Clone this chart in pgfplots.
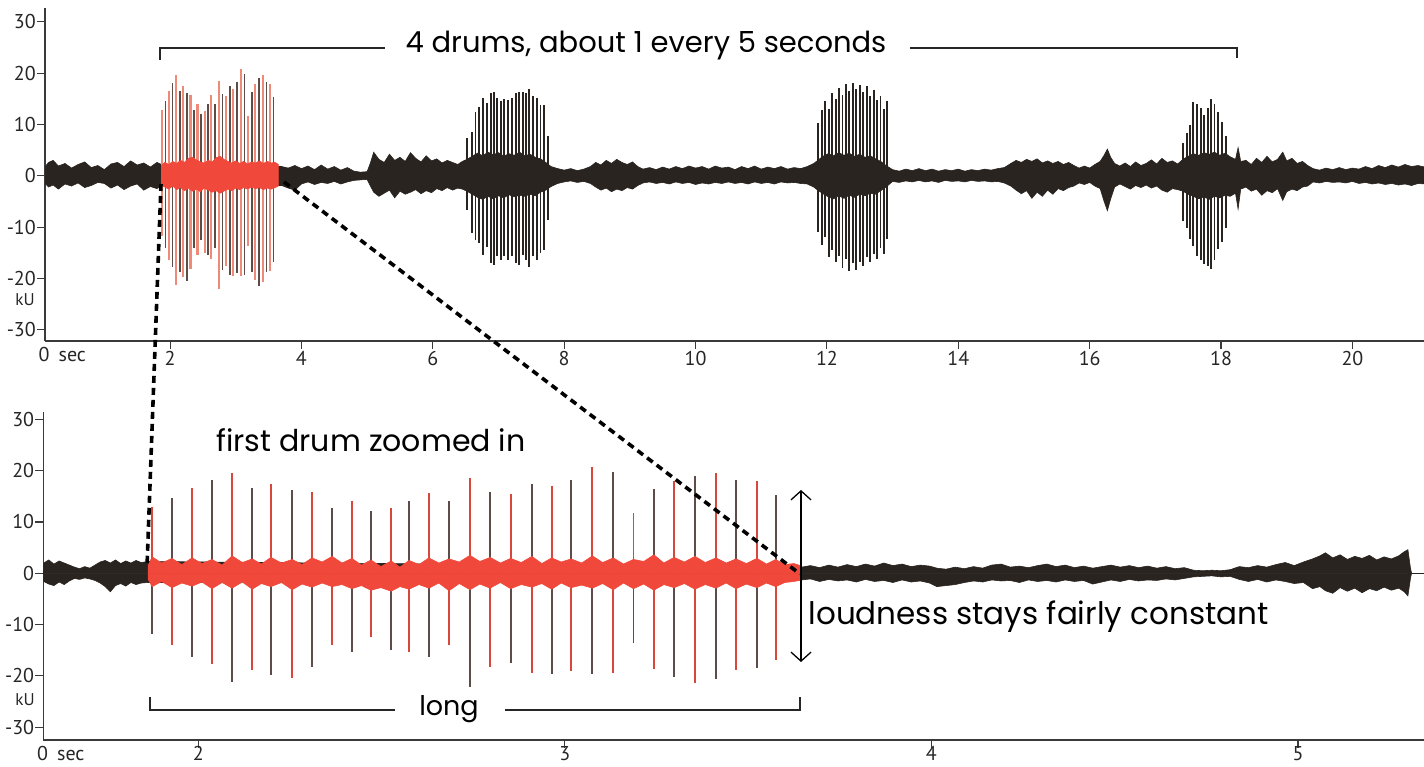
\documentclass[border=0pt]{standalone}
\usepackage{pgfplots}
\pgfplotsset{compat=1.18}
\usepackage{pgfplotstable}
\usetikzlibrary{arrows.meta}
\usepackage{fontspec}
\setmainfont{PT Sans}
\newfontfamily\hand{Poppins}

\definecolor{wave}{HTML}{2A2420}
\definecolor{redband}{HTML}{F0483A}
\definecolor{salmon}{HTML}{EE8A78}
\definecolor{spikedark}{HTML}{5E4C48}
\definecolor{spikered}{HTML}{D9473C}
\definecolor{axisgray}{HTML}{3A3A3A}

% noise envelope of the whole recording (top), kU
\pgfplotstableread{
t hi lo
0.10 1.8 -1.5
0.15 2.6 -2.2
0.22 3.0 -1.8
0.30 1.9 -2.6
0.40 2.4 -1.6
0.50 1.5 -2.0
0.60 2.2 -1.4
0.70 2.7 -2.3
0.80 1.6 -1.9
0.90 2.0 -1.3
1.00 1.2 -1.5
1.10 2.3 -2.4
1.20 2.6 -1.8
1.30 1.8 -2.7
1.40 2.9 -2.0
1.50 2.1 -1.6
1.60 2.5 -2.8
1.70 1.7 -2.1
1.80 2.6 -2.5
1.87 2.2 -2.0
3.70 1.8 -1.9
3.80 1.5 -2.4
3.90 2.0 -2.8
4.00 1.4 -1.6
4.10 1.9 -1.2
4.20 1.2 -1.7
4.30 2.1 -1.3
4.40 1.3 -1.5
4.50 1.8 -1.1
4.60 1.1 -1.6
4.70 1.6 -1.2
4.80 0.9 -0.9
4.90 0.7 -0.8
5.00 0.8 -0.7
5.05 2.5 -2.0
5.10 4.6 -3.2
5.18 3.2 -4.0
5.26 2.6 -3.4
5.34 4.2 -2.8
5.42 3.0 -4.3
5.50 3.6 -3.0
5.58 2.8 -3.6
5.66 4.5 -3.2
5.74 3.4 -2.7
5.82 2.7 -3.5
5.90 3.9 -2.9
5.98 2.9 -3.3
6.06 3.3 -2.5
6.14 2.5 -2.9
6.22 3.0 -2.3
6.30 2.6 -2.8
6.38 2.2 -2.4
6.45 2.8 -2.6
6.52 3.2 -3.0
6.60 3.8 -3.6
6.68 4.4 -4.2
6.76 3.9 -4.6
6.84 4.6 -4.0
6.92 4.1 -4.5
7.00 4.5 -3.9
7.08 3.8 -4.3
7.16 4.3 -3.7
7.24 4.0 -4.1
7.32 4.6 -3.8
7.40 3.9 -4.0
7.48 4.2 -3.6
7.56 3.6 -3.9
7.64 3.3 -3.2
7.72 2.6 -2.8
7.80 1.8 -2.1
7.90 1.4 -1.5
8.00 1.1 -1.2
8.10 1.4 -1.0
8.20 1.0 -1.3
8.30 1.3 -1.1
8.40 1.8 -1.5
8.48 2.6 -2.2
8.56 2.1 -2.8
8.64 3.0 -2.4
8.72 2.4 -3.1
8.80 3.2 -2.6
8.88 2.6 -2.9
8.96 2.2 -2.3
9.04 2.7 -2.6
9.12 1.8 -1.9
9.20 1.3 -1.4
9.30 1.6 -1.2
9.40 1.2 -1.5
9.50 1.7 -1.3
9.60 1.3 -1.6
9.70 1.8 -1.2
9.80 1.4 -1.5
9.90 1.9 -1.3
10.00 1.5 -1.7
10.10 1.8 -1.4
10.20 1.3 -1.6
10.30 1.9 -1.3
10.40 1.5 -1.5
10.50 1.7 -1.2
10.60 1.2 -1.5
10.70 1.8 -1.3
10.80 1.4 -1.6
10.90 1.9 -1.2
11.00 1.3 -1.5
11.10 1.7 -1.3
11.20 1.4 -1.6
11.30 1.8 -1.2
11.40 1.3 -1.4
11.50 1.6 -1.3
11.60 1.4 -1.5
11.70 1.8 -1.6
11.80 2.4 -2.2
11.86 3.0 -2.8
11.94 3.8 -3.5
12.02 4.3 -4.1
12.10 3.9 -4.5
12.18 4.5 -3.9
12.26 4.0 -4.4
12.34 4.4 -3.8
12.42 3.8 -4.2
12.50 4.2 -3.6
12.58 3.6 -3.9
12.66 3.9 -3.4
12.74 3.3 -3.6
12.82 2.8 -2.9
12.90 2.0 -2.2
13.00 1.2 -1.1
13.10 0.9 -1.3
13.20 1.3 -1.0
13.30 1.0 -1.2
13.40 1.4 -0.9
13.50 1.0 -1.2
13.60 1.3 -1.0
13.70 0.9 -1.3
13.80 1.2 -0.9
13.90 1.0 -1.1
14.00 1.3 -1.0
14.10 0.9 -1.2
14.20 1.2 -0.9
14.30 1.0 -1.1
14.40 1.3 -1.0
14.50 1.1 -1.2
14.60 1.4 -1.1
14.70 1.6 -1.4
14.80 2.4 -2.0
14.88 3.0 -2.8
14.96 2.6 -3.5
15.04 3.2 -2.9
15.12 2.8 -4.4
15.20 3.3 -3.2
15.28 2.5 -4.0
15.36 2.9 -2.8
15.44 2.4 -3.6
15.52 2.8 -2.5
15.60 2.2 -2.9
15.68 2.6 -2.3
15.76 2.0 -2.0
15.84 1.5 -1.4
15.92 1.9 -1.7
16.00 1.5 -1.3
16.08 2.2 -2.0
16.16 2.8 -2.5
16.22 4.0 -5.0
16.27 5.2 -6.8
16.32 3.6 -4.5
16.38 2.4 -2.2
16.46 1.9 -1.6
16.54 2.5 -2.1
16.62 1.8 -2.6
16.70 2.7 -1.9
16.78 2.0 -2.3
16.86 2.4 -1.8
16.94 3.1 -2.4
17.02 2.3 -2.0
17.10 3.4 -2.8
17.18 2.6 -3.2
17.26 2.9 -2.5
17.34 2.3 -2.7
17.42 3.2 -3.0
17.50 3.8 -3.6
17.58 4.3 -4.0
17.66 4.0 -4.5
17.74 4.5 -4.1
17.82 4.2 -4.6
17.90 4.6 -4.0
17.98 4.0 -4.3
18.06 4.4 -3.8
18.14 3.7 -4.0
18.22 3.2 -3.4
18.26 5.5 -6.5
18.30 2.8 -2.6
18.38 3.0 -2.2
18.46 2.2 -3.0
18.54 3.4 -2.6
18.62 2.6 -3.8
18.70 3.8 -2.9
18.78 2.7 -3.3
18.86 3.2 -2.5
18.94 4.6 -4.8
19.00 2.9 -3.1
19.08 3.4 -2.6
19.16 2.4 -2.9
19.24 2.8 -2.2
19.32 2.0 -2.0
19.40 1.4 -1.2
19.50 1.1 -1.4
19.60 1.5 -1.1
19.70 1.2 -1.3
19.80 1.6 -1.2
19.90 1.2 -1.4
20.00 1.5 -1.1
20.10 1.3 -1.5
20.20 1.8 -1.3
20.30 1.4 -1.6
20.40 2.0 -1.4
20.50 1.6 -1.7
20.60 2.1 -1.5
20.70 1.7 -1.8
20.80 2.2 -1.6
20.90 1.8 -1.9
21.00 2.0 -1.5
21.10 1.7 -1.6
}\topnoise

% red noise band of the first drum, seen in the top chart
\pgfplotstableread{
t hi lo
1.87 2.0 -1.8
1.92 2.6 -2.2
1.98 2.2 -2.6
2.04 2.8 -2.0
2.10 2.4 -2.7
2.16 3.0 -2.3
2.22 2.6 -2.9
2.28 3.4 -2.4
2.34 3.6 -3.0
2.40 3.1 -2.6
2.46 2.7 -3.1
2.52 2.5 -2.4
2.58 3.0 -2.8
2.64 2.7 -3.2
2.70 3.5 -2.9
2.76 3.8 -3.4
2.82 3.2 -3.0
2.88 2.8 -2.6
2.94 2.5 -2.9
3.00 2.9 -2.4
3.06 2.4 -2.7
3.12 2.8 -2.3
3.18 2.3 -2.6
3.24 2.7 -2.2
3.30 2.5 -2.5
3.36 2.9 -2.3
3.42 2.4 -2.7
3.48 2.8 -2.4
3.54 2.5 -2.6
3.60 2.6 -2.3
3.65 2.2 -2.0
}\topred

% first drum hits, alternate strokes: time (s), positive tip, negative tip (kU)
\pgfplotstableread{
t up dn
1.874 12.9 -11.8
1.983 16.6 -16.4
2.092 19.6 -21.2
2.198 17.4 -19.8
2.310 15.8 -18.2
2.419 14.0 -15.4
2.526 12.7 -15.0
2.629 15.7 -16.3
2.741 18.5 -22.1
2.852 15.5 -17.5
2.964 17.0 -19.6
3.075 20.8 -19.6
3.187 11.7 -13.6
3.298 17.9 -20.3
3.412 19.6 -20.7
3.524 17.9 -18.5
}\drumonea

\pgfplotstableread{
t up dn
1.928 14.6 -14.0
2.037 18.1 -17.7
2.147 16.6 -18.8
2.256 16.2 -20.5
2.365 12.8 -14.0
2.471 12.1 -12.5
2.575 14.0 -15.4
2.684 14.0 -14.0
2.796 15.9 -18.3
2.910 17.4 -19.4
3.017 18.2 -19.0
3.132 19.8 -19.4
3.243 16.4 -18.7
3.355 19.0 -21.4
3.467 18.2 -18.8
3.575 15.3 -16.9
}\drumoneb

\pgfplotstableread{
t up dn
6.52 7.3 -6.6
6.59 8.6 -11.2
6.65 12.5 -12.5
6.70 13.5 -13.1
6.76 15.1 -15.4
6.82 14.2 -13.8
6.88 16.1 -17.0
6.93 16.4 -17.3
6.98 15.1 -15.7
7.04 14.5 -16.4
7.09 14.9 -15.7
7.15 14.8 -16.4
7.20 15.1 -15.7
7.26 16.1 -17.0
7.31 16.4 -17.3
7.37 16.4 -15.4
7.42 16.1 -16.4
7.47 16.9 -17.7
7.53 15.5 -15.7
7.58 15.1 -16.4
7.64 13.8 -15.1
7.69 13.8 -14.4
7.76 7.7 -8.6
}\drumtwo

\pgfplotstableread{
t up dn
11.870 10.2 -11.0
11.922 12.8 -13.5
11.975 14.5 -12.0
12.027 13.0 -15.8
12.080 16.2 -14.5
12.132 15.0 -16.8
12.185 17.2 -15.6
12.237 15.8 -17.9
12.290 17.8 -16.2
12.342 16.5 -18.5
12.395 18.0 -17.0
12.447 17.0 -18.3
12.500 17.6 -16.8
12.552 16.3 -17.6
12.605 17.4 -15.9
12.657 15.6 -16.9
12.710 16.8 -15.2
12.762 14.8 -16.2
12.815 15.6 -14.0
12.867 13.0 -15.3
12.920 14.6 -12.4
}\drumthree

\pgfplotstableread{
t up dn
17.42 6.3 -8.8
17.48 8.4 -10.2
17.53 9.8 -12.3
17.58 14.3 -13.6
17.64 13.9 -15.7
17.69 13.2 -16.4
17.74 11.8 -17.1
17.80 13.2 -17.5
17.85 14.9 -18.2
17.90 13.9 -16.4
17.96 12.5 -14.3
18.01 10.5 -13.0
18.07 7.7 -10.2
}\drumfour

% zoomed chart: black noise before and after the drum
\pgfplotstableread{
t hi lo
1.578 2.0 -1.6
1.592 2.6 -2.1
1.606 1.8 -2.4
1.620 2.4 -1.7
1.634 2.0 -2.2
1.648 1.6 -1.5
1.662 1.2 -1.0
1.676 0.9 -1.2
1.690 1.3 -0.9
1.704 1.0 -1.1
1.718 1.6 -1.4
1.732 2.2 -1.9
1.746 2.5 -2.6
1.760 2.0 -3.6
1.774 2.6 -2.4
1.788 1.9 -2.0
1.802 2.4 -2.5
1.816 2.0 -1.8
1.830 2.5 -2.2
1.844 2.1 -1.9
1.863 2.3 -1.8
3.646 1.2 -1.3
3.670 1.5 -1.1
3.695 1.1 -1.6
3.720 1.6 -1.2
3.745 1.2 -1.5
3.770 1.7 -1.3
3.795 1.3 -1.7
3.820 1.8 -1.2
3.845 1.4 -1.6
3.870 2.0 -1.4
3.895 1.5 -1.8
3.920 1.8 -1.3
3.945 1.3 -1.7
3.970 1.6 -1.5
3.995 1.4 -1.9
4.015 1.0 -2.6
4.040 0.8 -2.4
4.065 1.2 -2.2
4.090 0.9 -1.8
4.115 1.3 -1.5
4.140 1.0 -1.7
4.165 1.6 -1.3
4.190 1.8 -1.5
4.215 1.2 -1.4
4.240 1.4 -1.8
4.265 1.1 -1.3
4.290 1.5 -1.6
4.315 1.8 -1.4
4.340 1.3 -1.7
4.365 1.6 -1.3
4.390 1.1 -1.6
4.415 1.4 -1.4
4.440 1.0 -2.1
4.465 1.3 -1.7
4.490 1.6 -1.3
4.515 1.2 -1.6
4.540 1.5 -1.2
4.565 1.1 -1.5
4.590 1.4 -1.3
4.615 1.0 -1.4
4.640 1.3 -1.1
4.665 0.9 -1.3
4.690 1.1 -1.0
4.715 0.6 -0.7
4.740 0.5 -0.6
4.765 0.6 -0.5
4.790 0.5 -0.7
4.815 0.7 -0.6
4.840 1.3 -1.2
4.865 1.1 -1.6
4.890 1.5 -1.2
4.915 1.2 -1.7
4.940 1.7 -1.3
4.965 2.1 -1.6
4.990 1.5 -2.0
5.015 2.2 -1.8
5.040 2.8 -3.0
5.060 3.4 -2.6
5.075 4.0 -3.4
5.095 3.0 -3.9
5.115 3.6 -2.8
5.135 2.7 -3.5
5.155 3.3 -2.9
5.175 2.9 -3.8
5.195 3.5 -3.0
5.215 2.6 -3.4
5.235 3.2 -2.7
5.255 2.8 -3.3
5.275 3.4 -2.9
5.290 4.2 -3.6
5.300 4.6 -4.4
5.307 1.0 -1.0
5.310 0.0 0.0
}\botnoise

% zoomed chart: red noise band of the drum
\pgfplotstableread{
t hi lo
1.863 1.5 -1.2
1.874 3.2 -2.6
1.900 2.0 -1.6
1.928 2.9 -2.8
1.955 1.7 -1.9
1.983 3.0 -2.5
2.010 1.9 -1.7
2.037 2.7 -3.0
2.065 1.6 -1.8
2.092 3.4 -2.9
2.120 2.1 -1.7
2.147 2.8 -3.1
2.172 1.8 -2.0
2.198 3.1 -2.6
2.227 2.0 -1.8
2.256 2.7 -3.2
2.283 1.7 -2.1
2.310 3.0 -2.7
2.338 2.2 -1.9
2.365 3.3 -2.6
2.392 2.0 -2.2
2.419 2.9 -3.0
2.445 1.6 -2.4
2.471 2.6 -3.3
2.498 1.3 -2.8
2.526 2.4 -3.5
2.550 1.2 -2.6
2.575 2.5 -3.1
2.602 1.7 -2.2
2.629 3.0 -2.9
2.656 2.0 -1.9
2.684 2.8 -3.4
2.712 2.2 -2.0
2.741 3.5 -3.2
2.768 2.3 -2.1
2.796 3.1 -2.9
2.824 2.0 -1.8
2.852 2.9 -3.0
2.881 2.1 -2.2
2.910 3.3 -2.7
2.937 1.9 -2.0
2.964 3.0 -3.1
2.990 2.2 -1.9
3.017 2.8 -2.8
3.046 2.0 -2.3
3.075 3.4 -2.9
3.103 2.1 -2.0
3.132 3.0 -3.2
3.160 1.8 -1.9
3.187 2.7 -3.0
3.215 2.3 -2.1
3.243 3.6 -3.3
3.270 2.0 -2.2
3.298 3.1 -2.8
3.326 2.2 -2.0
3.355 3.3 -3.1
3.383 2.1 -2.2
3.412 3.0 -2.9
3.440 2.0 -1.9
3.467 2.8 -3.0
3.495 1.9 -2.1
3.524 2.9 -2.8
3.550 1.8 -1.9
3.575 2.7 -2.6
3.600 1.7 -1.8
3.625 1.9 -1.6
3.646 1.4 -1.3
}\botred

\pgfplotsset{
  waveaxis/.style={
    scale only axis, anchor=south west,
    axis x line=bottom, axis y line=left,
    axis line style={-, line width=1.3pt, axisgray},
    ytick={-30,-20,...,30},
    tick align=outside, major tick length=8pt,
    tick style={line width=1.1pt, axisgray},
    tick label style={font=\fontsize{20}{23}\selectfont, text=black!85},
    /pgf/number format/assume math mode=true,
    yticklabel style={inner xsep=1pt},
    xticklabel style={inner ysep=2pt},
  },
}

\begin{document}
\begin{tikzpicture}
\path[use as bounding box] (0pt,0pt) rectangle (1424pt,767pt);

% whole recording
\begin{axis}[waveaxis, at={(45pt,426pt)}, width=1379pt, height=333pt,
  xmin=0.096, xmax=21.09, ymin=-32.2, ymax=32.7,
  xtick={2,4,...,20}]
  \addplot[wave, fill=wave, line width=0.6pt] table[x=t,y=hi]{\topnoise} \closedcycle;
  \addplot[wave, fill=wave, line width=0.6pt] table[x=t,y=lo]{\topnoise} \closedcycle;
  \addplot[ycomb, wave, line width=1.9pt] table[x=t,y=up]{\drumtwo};
  \addplot[ycomb, wave, line width=1.9pt] table[x=t,y=dn]{\drumtwo};
  \addplot[ycomb, wave, line width=1.9pt] table[x=t,y=up]{\drumthree};
  \addplot[ycomb, wave, line width=1.9pt] table[x=t,y=dn]{\drumthree};
  \addplot[ycomb, wave, line width=1.9pt] table[x=t,y=up]{\drumfour};
  \addplot[ycomb, wave, line width=1.9pt] table[x=t,y=dn]{\drumfour};
  \addplot[ycomb, salmon, line width=2.2pt] table[x=t,y=up]{\drumonea};
  \addplot[ycomb, salmon, line width=2.2pt] table[x=t,y=dn]{\drumonea};
  \addplot[ycomb, spikedark, line width=1.6pt] table[x=t,y=up]{\drumoneb};
  \addplot[ycomb, spikedark, line width=1.6pt] table[x=t,y=dn]{\drumoneb};
  \addplot[redband, fill=redband, line width=0.6pt] table[x=t,y=hi]{\topred} \closedcycle;
  \addplot[redband, fill=redband, line width=0.6pt] table[x=t,y=lo]{\topred} \closedcycle;
\end{axis}

% first drum zoomed in
\begin{axis}[waveaxis, at={(43.3pt,27pt)}, width=1380.7pt, height=328.3pt,
  xmin=1.577, xmax=5.344, ymin=-32.5, ymax=31.5,
  xtick={2,3,4,5}, xticklabel style={yshift=4pt}]
  \addplot[wave, fill=wave, line width=0.6pt] table[x=t,y=hi]{\botnoise} \closedcycle;
  \addplot[wave, fill=wave, line width=0.6pt] table[x=t,y=lo]{\botnoise} \closedcycle;
  \addplot[wave, line width=0.8pt] coordinates {(5.30,0) (5.344,0)};
  \addplot[ycomb, spikered, line width=1.8pt] table[x=t,y=up]{\drumonea};
  \addplot[ycomb, spikedark, line width=1.8pt] table[x=t,y=dn]{\drumonea};
  \addplot[ycomb, spikedark, line width=1.8pt] table[x=t,y=up]{\drumoneb};
  \addplot[ycomb, spikered, line width=1.8pt] table[x=t,y=dn]{\drumoneb};
  \addplot[redband, fill=redband, line width=0.6pt] table[x=t,y=hi]{\botred} \closedcycle;
  \addplot[redband, fill=redband, line width=0.6pt] table[x=t,y=lo]{\botred} \closedcycle;
\end{axis}

% axis captions
\node[anchor=west, inner sep=0pt, font=\fontsize{20}{23}\selectfont, text=black!85] at (38.5pt,412pt) {0\hspace{9pt}sec};
\node[anchor=west, inner sep=0pt, font=\fontsize{20}{23}\selectfont, text=black!85] at (37pt,13pt) {0\hspace{9pt}sec};
\node[font=\fontsize{17}{20}\selectfont, text=black!85] at (25pt,467pt) {kU};
\node[font=\fontsize{17}{20}\selectfont, text=black!85] at (25pt,67pt) {kU};

% zoom guides
\draw[line width=3.6pt, dash pattern=on 7pt off 5pt] (161pt,583pt) -- (147pt,200pt);
\draw[line width=3.6pt, dash pattern=on 7pt off 5pt] (284pt,585pt) -- (800pt,193pt);

% brackets and notes
\draw[line width=1.6pt, black!85] (160pt,707pt) -- (160pt,719pt) -- (385pt,719pt);
\draw[line width=1.6pt, black!85] (910pt,719pt) -- (1237pt,719pt) -- (1237pt,709pt);
\node[font=\hand\fontsize{29}{33}\selectfont] at (646pt,721pt) {4 drums, about 1 every 5 seconds};

\node[font=\hand\fontsize{30}{34}\selectfont] at (371pt,327pt) {first drum zoomed in};

\draw[line width=1.6pt, black!85] (150pt,70pt) -- (150pt,57pt) -- (395pt,57pt);
\draw[line width=1.6pt, black!85] (505pt,57pt) -- (800pt,57pt) -- (800pt,70pt);
\node[font=\hand\fontsize{27}{31}\selectfont] at (449pt,58pt) {long};

\draw[line width=1.3pt, {Straight Barb[length=9pt,width=20pt]}-{Straight Barb[length=9pt,width=20pt]}] (801pt,277pt) -- (801pt,105pt);
\node[anchor=west, font=\hand\fontsize{31}{35}\selectfont] at (805pt,150pt) {loudness stays fairly constant};
\end{tikzpicture}
\end{document}
